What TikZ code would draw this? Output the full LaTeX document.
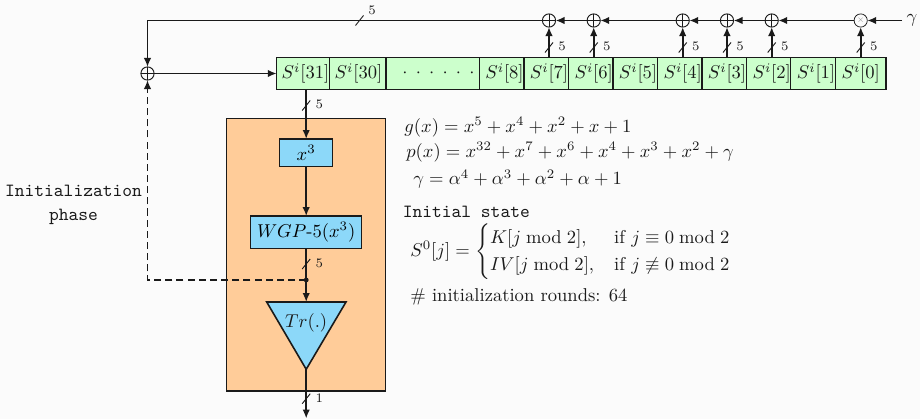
\documentclass[tikz,border=0pt]{standalone}
\usepackage{amsmath}
\usetikzlibrary{arrows.meta,calc}
\definecolor{bgc}{HTML}{FBFBFB}
\definecolor{cellc}{HTML}{CCFFCC}
\definecolor{orangec}{HTML}{FFCC99}
\definecolor{bluec}{HTML}{8CD8F9}
\definecolor{inkc}{HTML}{1A1A1A}
\tikzset{
  x=0.5378pt,y=-0.5378pt,
  wire/.style={line width=0.9pt,draw=inkc},
  arrowed/.style={wire,-{Latex[length=4.8pt,width=4pt]}},
  dashwire/.style={line width=0.9pt,draw=inkc,dash pattern=on 3.8pt off 2.2pt},
  cellbox/.style={draw=inkc,line width=0.75pt,fill=cellc,inner sep=0pt,outer sep=0pt,minimum height=17.2pt},
  celltext/.style={inner sep=0pt,text=inkc},
  funcbox/.style={draw=inkc,line width=0.85pt,fill=bluec,inner sep=0pt,outer sep=0pt},
  xorgate/.style={circle,draw=inkc,line width=0.5pt,fill=bgc,minimum size=7.1pt,inner sep=0pt,outer sep=0pt,
    path picture={\draw[line width=0.5pt,draw=inkc] (path picture bounding box.north)--(path picture bounding box.south)
      (path picture bounding box.west)--(path picture bounding box.east);}},
  mulgate/.style={circle,draw=inkc,line width=0.4pt,fill=bgc,minimum size=7.1pt,inner sep=0pt,outer sep=0pt},
  widthlabel/.style={font=\scriptsize,text=inkc,inner sep=0pt},
  eqtext/.style={anchor=west,inner sep=0pt,text=inkc},
}
\newcommand{\buscell}[5]{\node[cellbox,minimum width={(#3-#2)*0.5378pt}] (#1) at ({(#2+#3)/2},73.5) {};
  \node[celltext] (#1t) at (#4,73.5) {#5};}
\newcommand{\bustick}[4]{\draw[line width=0.5pt,draw=inkc] (#2-4,#3+5)--(#2+4,#3-5);
  \node[widthlabel] (#1) at (#2+13,#3-1) {#4};}
\begin{document}
\begin{tikzpicture}
\useasboundingbox (0,0) rectangle (920,419);
\fill[bgc] (0,0) rectangle (920,419);
% register
\buscell{c31}{276.7}{329.3}{305.5}{$S^i[31]$}
\buscell{c30}{329.3}{386}{358.5}{$S^i[30]$}
\buscell{cdots}{386}{479.3}{438.5}{$\cdot\mkern8mu{\cdot}\mkern8mu{\cdot}\mkern8mu{\cdot}\mkern8mu{\cdot}\mkern8mu{\cdot}$}
\buscell{c8}{479.3}{524}{504.5}{$S^i[8]$}
\buscell{c7}{524}{568.7}{549}{$S^i[7]$}
\buscell{c6}{568.7}{613}{593.7}{$S^i[6]$}
\buscell{c5}{613}{657.3}{638}{$S^i[5]$}
\buscell{c4}{657.3}{702}{682.7}{$S^i[4]$}
\buscell{c3}{702}{746.3}{727}{$S^i[3]$}
\buscell{c2}{746.3}{790.7}{771.7}{$S^i[2]$}
\buscell{c1}{790.7}{835.3}{816}{$S^i[1]$}
\buscell{c0}{835.3}{886}{860.7}{$S^i[0]$}
% gates
\node[xorgate] (xa) at (549,20.5) {};
\node[xorgate] (xb) at (593.7,20.5) {};
\node[xorgate] (xc) at (682.7,20.5) {};
\node[xorgate] (xd) at (727,20.5) {};
\node[xorgate] (xe) at (771.7,20.5) {};
\node[mulgate] (xm) at (860.7,20.5) {};
\node[inner sep=0pt,text=gray] (xmark) at (860.7,20.5) {\scalebox{0.5}{$\times$}};
\node[xorgate] (xin) at (147.5,73.5) {};
\node[inner sep=0pt,text=inkc] (gam) at (912,20) {$\gamma$};
\coordinate (gamstart) at (902,20.5);
\coordinate (topleft) at (147.5,20.5);
% orange block
\node[draw=inkc,line width=0.85pt,fill=orangec,inner sep=0pt,outer sep=0pt,minimum width={159*0.5378pt},minimum height={272.7*0.5378pt}] (block) at (306.2,254.7) {};
\node[funcbox,minimum width={53*0.5378pt},minimum height={27.7*0.5378pt}] (cube) at (306.2,152.8) {$x^3$};
\node[funcbox,minimum width={111*0.5378pt},minimum height={32.3*0.5378pt}] (wgp) at (306.2,232.2) {$WGP$-$5(x^3)$};
\coordinate (tl) at (266.7,302);
\coordinate (tr) at (346,302);
\coordinate (tb) at (306.2,369.3);
\coordinate (ttop) at (306.2,302);
\draw[line width=0.85pt,draw=inkc,fill=bluec,line join=miter] (tl)--(tr)--(tb)--cycle;
\node[inner sep=0pt,text=inkc] (trace) at (306.2,323) {$Tr(.)$};
\coordinate (outend) at (306.2,418.5);
\coordinate (split) at (306.2,280);
\coordinate (dashcorner) at (147.5,280);
% connectors
\draw[arrowed] (gamstart) -- (xm);
\draw[arrowed] (xm) -- (xe);
\draw[arrowed] (xe) -- (xd);
\draw[arrowed] (xd) -- (xc);
\draw[arrowed] (xc) -- (xb);
\draw[arrowed] (xb) -- (xa);
\draw[arrowed] (xa) -- (topleft) -- (xin);
\draw[arrowed] (xin) -- (c31);
\draw[arrowed] (xa |- c7.north) -- (xa);
\draw[arrowed] (xb |- c6.north) -- (xb);
\draw[arrowed] (xc |- c4.north) -- (xc);
\draw[arrowed] (xd |- c3.north) -- (xd);
\draw[arrowed] (xe |- c2.north) -- (xe);
\draw[arrowed] (xm |- c0.north) -- (xm);
\draw[arrowed] (cube |- c31.south) -- (cube);
\draw[arrowed] (cube) -- (wgp);
\draw[wire] (wgp) -- (split);
\draw[arrowed] (split) -- (ttop);
\draw[arrowed] (tb) -- (outend);
\draw[dashwire] (split) -- (dashcorner) -- ($(xin.south)+(0,9)$);
\draw[arrowed] ($(xin.south)+(0,9)$) -- (xin);
\fill[inkc] (split) circle (1.3pt);
% ticks
\bustick{wt}{359.5}{20.5}{}
\node[widthlabel] (wtop) at (372,10) {5};
\bustick{wa}{549}{47.5}{5}
\bustick{wb}{593.7}{47.5}{5}
\bustick{wc}{682.7}{47.5}{5}
\bustick{wd}{727}{47.5}{5}
\bustick{we}{771.7}{47.5}{5}
\bustick{wm}{860.7}{47.5}{5}
\bustick{wf}{306.2}{105.5}{5}
\bustick{wg}{306.2}{264}{5}
\bustick{wh}{306.2}{398.7}{1}
% texts
\node[align=center,font=\ttfamily,inner sep=0pt,text=inkc] (initph) at (73.5,205) {Initialization\\[1pt]phase};
\node[eqtext] (eqg) at (404,127) {$g(x) = x^5 + x^4 + x^2 + x + 1$};
\node[eqtext] (eqp) at (406,152) {$p(x) = x^{32} + x^7 + x^6 + x^4 + x^3 + x^2 + \gamma$};
\node[eqtext] (eqa) at (413,179) {$\gamma = \alpha^4 + \alpha^3 + \alpha^2 + \alpha + 1$};
\node[eqtext,font=\ttfamily] (eqi) at (402.5,212) {Initial state};
\node[eqtext] (eqs) at (410,252) {$S^0[j] = \begin{cases} K[j \bmod 2], & \hspace{0.8pt}\text{if } j \equiv 0 \bmod 2\\ IV[j \bmod 2], & \hspace{0.8pt}\text{if } j \not\equiv 0 \bmod 2\end{cases}$};
\node[eqtext] (eqr) at (410,297) {\# initialization rounds: 64};
\end{tikzpicture}
\end{document}
